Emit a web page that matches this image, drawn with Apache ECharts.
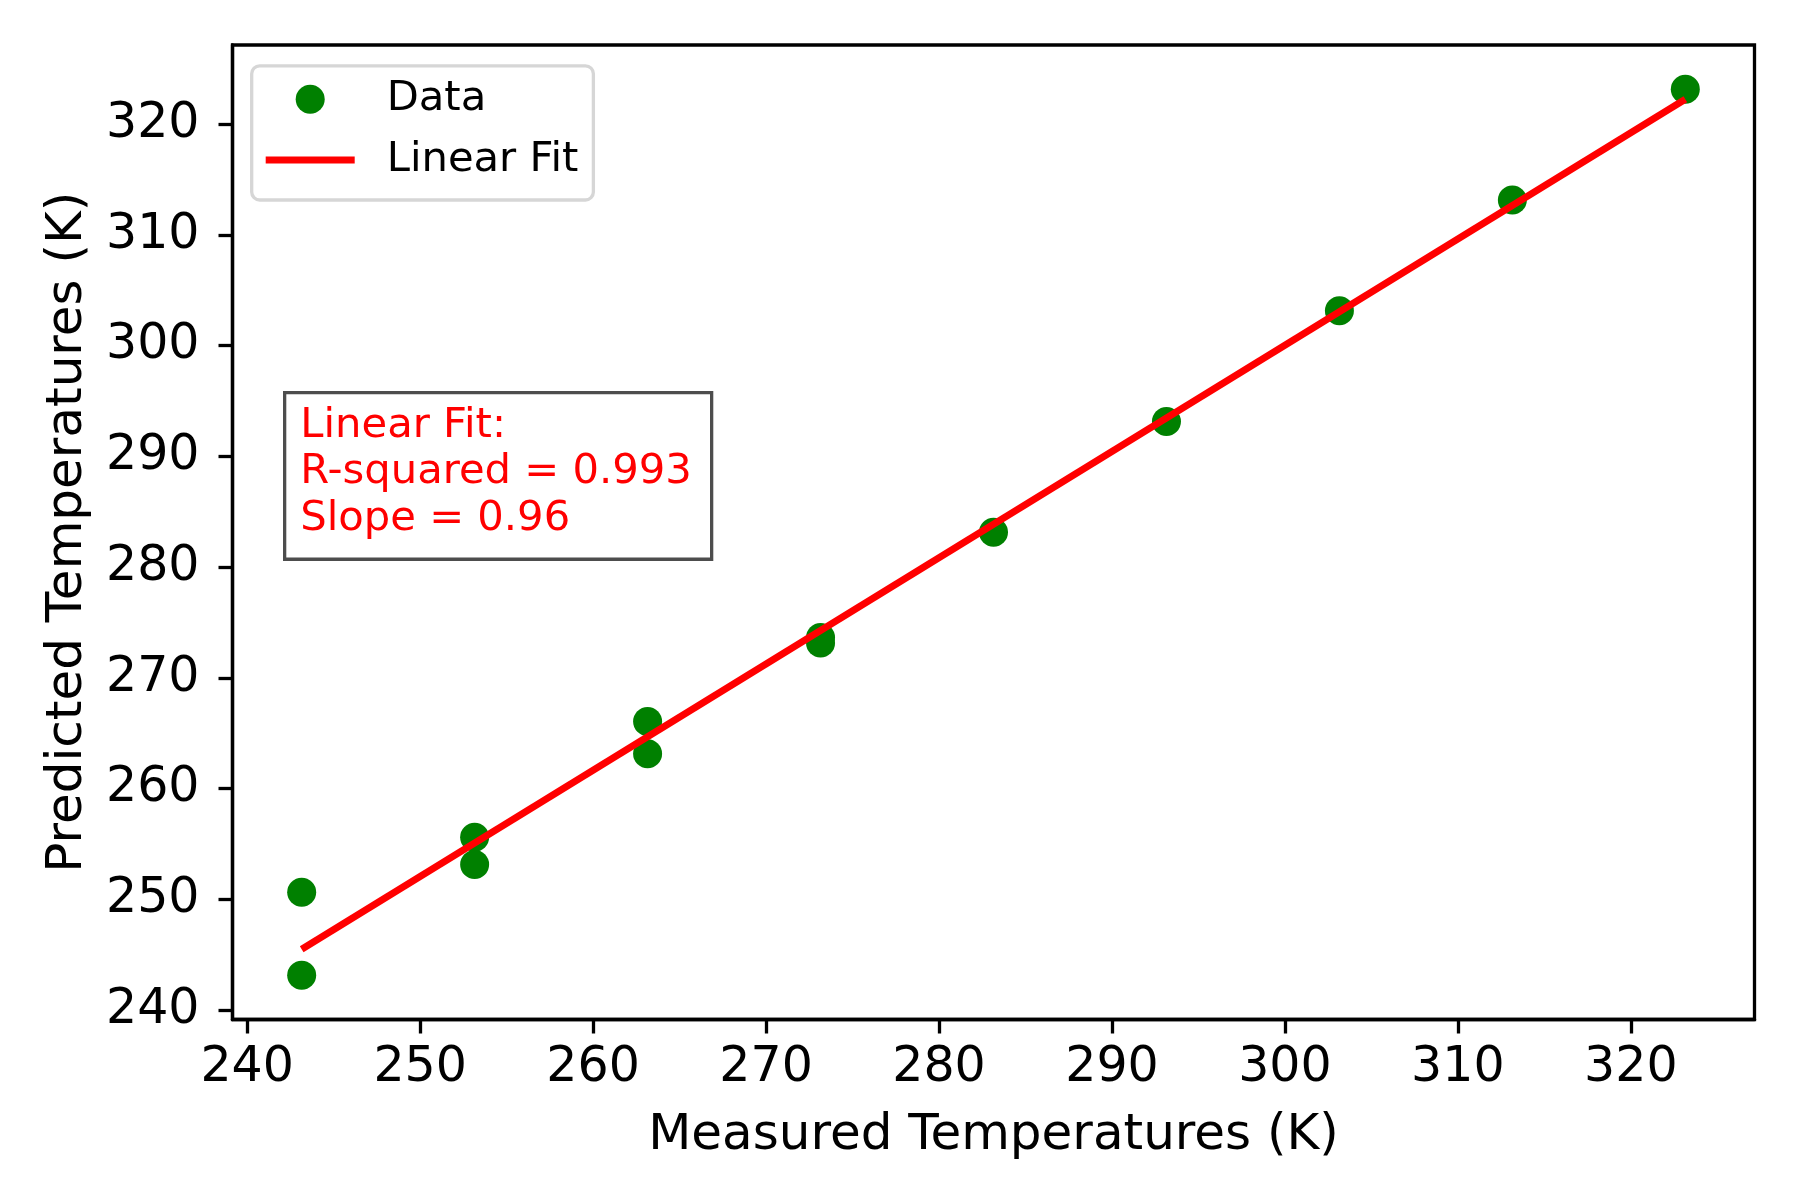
<!DOCTYPE html>
<html>
<head>
    <meta charset="utf-8">
    <title>Measured vs Predicted Temperatures</title>
    <script src="https://cdn.jsdelivr.net/npm/echarts@6.0.0/dist/echarts.min.js"></script>
    <style>
        html, body { margin: 0; padding: 0; background: #ffffff; }
        #chart1 { width: 1800px; height: 1200px; }
    </style>
</head>
<body>
<div id="chart1"></div>
<script type="text/javascript">

    // measured (x) and predicted (y) temperatures, K
    var measured = [243.15, 243.15, 253.15, 253.15, 263.15, 263.15, 273.15, 273.15, 283.15, 293.15, 303.15, 313.15, 323.15];
    var predicted = [250.65, 243.15, 255.6, 253.15, 266.05, 263.15, 273.65, 273.15, 283.15, 293.15, 303.15, 313.15, 323.15];
    var tickValues = [240, 250, 260, 270, 280, 290, 300, 310, 320];
    var fitText = ['Linear Fit:', 'R-squared = 0.993', 'Slope = 0.96'];

    // least squares fit through the data
    var n = measured.length, sx = 0, sy = 0, sxx = 0, sxy = 0;
    for (var i = 0; i < n; i++) {
        sx += measured[i]; sy += predicted[i];
        sxx += measured[i] * measured[i]; sxy += measured[i] * predicted[i];
    }
    var slope = (n * sxy - sx * sy) / (n * sxx - sx * sx);
    var intercept = (sy - slope * sx) / n;
    var xLo = Math.min.apply(null, measured), xHi = Math.max.apply(null, measured);
    var fitLine = [[xLo, slope * xLo + intercept], [xHi, slope * xHi + intercept]];

    var points = measured.map(function (x, k) { return [x, predicted[k]]; });

    // axis limits with 5% padding like the original
    var allY = predicted.concat([fitLine[0][1], fitLine[1][1]]);
    var yLo = Math.min.apply(null, allY), yHi = Math.max.apply(null, allY);
    var xPad = (xHi - xLo) * 0.05, yPad = (yHi - yLo) * 0.05;

    var font = 'DejaVu Sans';

    var myChart1 = echarts.init(document.getElementById('chart1'));

    function axisCommon(name) {
        return {
            type: 'value',
            name: name,
            nameLocation: 'middle',
            nameTextStyle: { fontFamily: font, fontSize: 50, color: '#000' },
            axisLine: { show: true, onZero: false, lineStyle: { color: '#000', width: 3.3 } },
            axisTick: { show: true, inside: false, length: 14, lineStyle: { color: '#000', width: 3.3 }, customValues: tickValues },
            axisLabel: { fontFamily: font, fontSize: 49, color: '#000', customValues: tickValues },
            splitLine: { show: false }
        };
    }

    var xAxis = axisCommon('Measured Temperatures (K)');
    xAxis.min = xLo - xPad;
    xAxis.max = xHi + xPad;
    xAxis.nameGap = 92;
    xAxis.axisLabel.margin = 24;

    var yAxis = axisCommon('Predicted Temperatures (K)');
    yAxis.min = yLo - yPad;
    yAxis.max = yHi + yPad;
    yAxis.nameGap = 139.5;
    yAxis.axisLabel.margin = 33;

    myChart1.setOption({
        backgroundColor: '#ffffff',
        animation: false,
        grid: {
            left: 232.5, right: 45.5, top: 45, bottom: 180.5,
            show: true, borderColor: '#000', borderWidth: 3.3, backgroundColor: '#fff'
        },
        legend: {
            orient: 'vertical',
            left: 251.7,
            top: 65.8,
            padding: [12.4, 15, 19, 14],
            itemGap: 18.8,
            itemWidth: 89,
            itemHeight: 29,
            backgroundColor: 'rgba(255,255,255,0.8)',
            borderColor: '#d6d6d6',
            borderWidth: 3.3,
            borderRadius: 8,
            textStyle: { fontFamily: font, fontSize: 41.7, color: '#000', lineHeight: 42, padding: [0, 0, 0, 27] },
            data: [
                { name: 'Data', icon: 'circle' },
                { name: 'Linear Fit', icon: 'path://M0,0L89,0L89,7L0,7Z' }
            ]
        },
        xAxis: xAxis,
        yAxis: yAxis,
        series: [{
            name: 'Data',
            type: 'scatter',
            symbol: 'circle',
            symbolSize: 29,
            itemStyle: { color: '#008000', opacity: 1 },
            data: points,
            z: 2
        }, {
            name: 'Linear Fit',
            type: 'line',
            symbol: 'none',
            lineStyle: { color: '#ff0000', width: 7 },
            itemStyle: { color: '#ff0000' },
            data: fitLine,
            z: 3
        }],
        graphic: [{
            type: 'group',
            left: 283,
            top: 391,
            children: [{
                type: 'rect',
                shape: { x: 0, y: 0, width: 427, height: 166.6 },
                style: { fill: '#ffffff', stroke: '#4d4d4d', lineWidth: 3.3 }
            }, {
                type: 'text',
                x: 15.6,
                y: 10.7,
                style: {
                    text: fitText.join('\n'),
                    fill: '#ff0000',
                    font: '41.7px "DejaVu Sans"',
                    lineHeight: 46.2,
                    verticalAlign: 'top'
                }
            }]
        }]
    });

</script>
</body>
</html>
